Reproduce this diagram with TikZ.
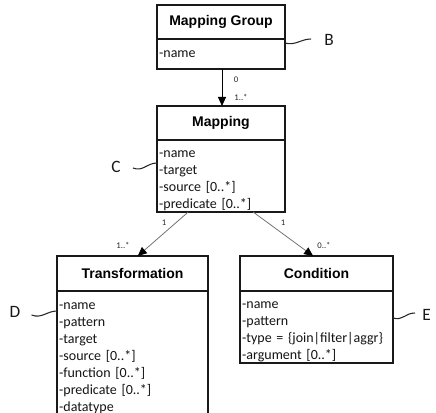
\documentclass[tikz,border=0pt]{standalone}
\usepackage{fontspec}
\setmainfont{Carlito}
\newfontfamily\titlefont{Liberation Sans}
\usetikzlibrary{arrows.meta,calc}

\tikzset{
  frame/.style={draw=black!90, line width=1pt, anchor=north west, inner sep=0pt, outer sep=0pt},
  ttl/.style={frame, font=\titlefont\bfseries\fontsize{10.5}{12}\selectfont},
  attrs/.style={frame, align=left, inner xsep=1.6pt, inner ysep=0pt,
    font=\fontsize{10.5}{12.75}\selectfont, text=black!92},
  % taller first line pushes the attribute list down a little
  attrlist/.style={attrs, execute at begin node={\rule{0pt}{12.6pt}}},
  mult/.style={font=\fontsize{6.5}{7}\selectfont, inner sep=0pt, text=black!85},
  assoc/.style={line width=0.6pt, -{Triangle[length=6.75pt,width=6pt,color=black]}},
  tag/.style={font=\fontsize{13}{15}\selectfont, inner sep=0pt, text=black!90},
  squig/.style={line width=0.8pt, draw=black!85}
}

\begin{document}
\begin{tikzpicture}[x=0.75pt, y=-0.75pt]
\useasboundingbox (0,0) rectangle (436,413);

% Mapping Group
\node[ttl, minimum width=96pt, minimum height=25.5pt] (mgT) at (157,5) {Mapping Group};
\node[attrs, text width=92.8pt, minimum height=22.5pt] (mgA) at (mgT.south west) {-name};

% Mapping
\node[ttl, minimum width=96pt, minimum height=25.5pt] (mapT) at (157,106) {Mapping};
\node[attrlist, text width=92.8pt, minimum height=54pt] (mapA) at (mapT.south west)
  {-name\\-target\\-source [0..*]\\-predicate [0..*]};

% Transformation
\node[ttl, minimum width=113.25pt, minimum height=26.25pt] (trT) at (57,256) {Transformation};
\node[attrlist, text width=110.05pt, minimum height=93pt] (trA) at (trT.south west)
  {-name\\-pattern\\-target\\-source [0..*]\\-function [0..*]\\-predicate [0..*]\\-datatype};

% Condition
\node[ttl, minimum width=114.75pt, minimum height=26.25pt] (coT) at (240,256) {Condition};
\node[attrlist, text width=111.55pt, minimum height=54pt] (coA) at (coT.south west)
  {-name\\-pattern\\-type = \{join|filter|aggr\}\\-argument [0..*]};

% associations
\draw[assoc, draw=black] (mgA.south -| 222,0) -- (mapT.north -| 222,0);
\node[mult] (m0) at (236,80) {0};
\node[mult] (m1) at (241,97) {1..*};

\coordinate (trS) at ($(mapA.south west)!0.244!(mapA.south east)$);
\coordinate (coS) at ($(mapA.south west)!0.751!(mapA.south east)$);
\coordinate (trE) at ($(trT.north west)!0.535!(trT.north east)$);
\coordinate (coE) at ($(coT.north west)!0.478!(coT.north east)$);
\draw[assoc, draw=black!55] (trS) -- (trE);
\draw[assoc, draw=black!55] (coS) -- (coE);
\node[mult] (l1) at (164,223) {1};
\node[mult] (r1) at (283,223) {1};
\node[mult] (l2) at (123,245) {1..*};
\node[mult] (r2) at (324,245) {0..*};

% callout letters
\node[tag] (lB) at (329,40) {B};
\node[tag] (lC) at (116,167) {C};
\node[tag] (lD) at (15,312) {D};
\node[tag, anchor=west] (lE) at (422,315) {E};

\coordinate (bEnd) at ($(lB.west)+(-13,-1)$);
\coordinate (cEnd) at ($(lC.east)+(12,1)$);
\coordinate (dEnd) at ($(lD.east)+(11,3)$);
\coordinate (eEnd) at ($(lE.west)+(-7,-2)$);
\draw[squig] ($(mgA.north east)+(0,4)$) .. controls +(10,3) and +(-10,0) .. (bEnd);
\draw[squig] (cEnd) .. controls +(10,4) and +(-10,0) .. ($(mapA.north west)+(0,23)$);
\draw[squig] (dEnd) .. controls +(10,4) and +(-10,0) .. ($(trA.north west)+(0,20)$);
\draw[squig] ($(coA.north east)+(0,27)$) .. controls +(10,3) and +(-10,0) .. (eEnd);
\end{tikzpicture}
\end{document}
